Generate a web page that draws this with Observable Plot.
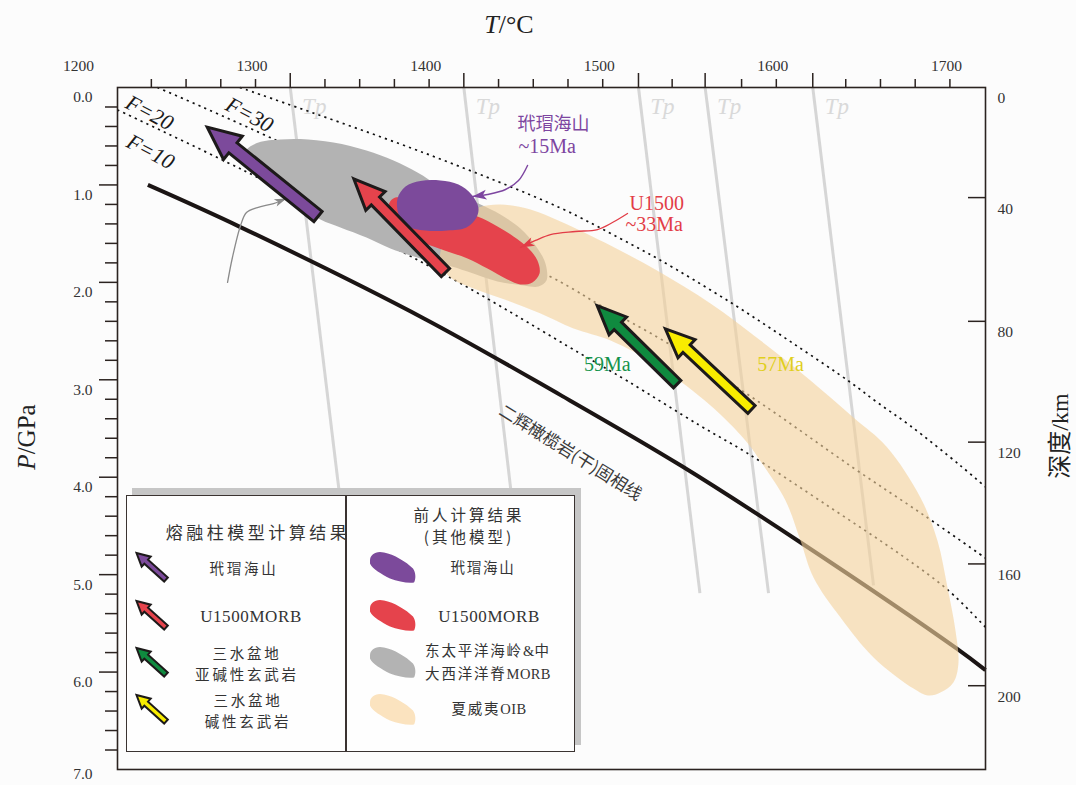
<!DOCTYPE html>
<html lang="zh">
<head>
<meta charset="utf-8">
<script src="https://cdn.jsdelivr.net/npm/d3@7"></script>
<script src="https://cdn.jsdelivr.net/npm/@observablehq/plot@0.6"></script>
<style>
html,body{margin:0;padding:0;background:#fcfcfc;}
#wrap{position:relative;width:1076px;height:785px;overflow:hidden;}
.t{position:absolute;transform:translate(-50%,-50%);white-space:nowrap;color:#2a2a2a;line-height:1;}
.serif{font-family:"Liberation Serif","DejaVu Serif",serif;}
.cjk{font-family:"Noto Sans CJK SC","Noto Sans",sans-serif;}
#legend{position:absolute;left:126px;top:495px;width:449px;height:257px;box-sizing:border-box;background:#fefefe;border:1.5px solid #3a3331;box-shadow:6px -7px 0 0 #c6c6c6;}
#legend .div{position:absolute;left:218px;top:0;width:1.5px;height:100%;background:#3a3331;}
</style>
</head>
<body>
<div id="wrap"></div>
<script>
// ---------------- data ----------------
const tempTickLabels = [1200, 1300, 1400, 1500, 1600, 1700];
const tempMinorTicks = [1242,1262,1282,1302,1342,1362,1382,1402,1442,1462,1482,1502,1542,1582,1602,1642,1662,1682,1702];
const pressureLabels = [0, 1, 2, 3, 4, 5, 6];
const pressureBottomLabel = [7];
const pressureMajorTicks = [1, 2, 3, 4, 5, 6];
const pressureMinorTicks = [0.2,0.4,0.6,0.8,1.2,1.4,1.6,1.8,2.2,2.4,2.6,2.8,3.2,3.4,3.6,3.8,4.2,4.4,4.6,4.8,5.2,5.4,5.6,5.8,6.2,6.4,6.6,6.8];
const depthKm = [0, 40, 80, 120, 160, 200];
const depthGPa = [0, 1.13, 2.40, 3.64, 4.89, 6.14];

// mantle potential temperature (Tp) isentropes
const tpTopT = [1322, 1422, 1522.6, 1561, 1623];
const tpBottomT = [1350, 1449, 1558, 1597.5, 1658];
const tpBottomP = [4.12, 4.12, 5.19, 5.19, 5.11];

// dry peridotite solidus
const solidusT = [1240, 1293, 1399, 1478, 1547, 1616, 1706, 1722.5];
const solidusP = [1.00, 1.43, 2.37, 3.16, 3.88, 4.67, 5.76, 5.98];

// melt fraction isopleths
const f30T = [1293, 1399, 1478, 1512, 1534, 1576, 1612, 1645, 1660, 1679, 1708, 1722.5];
const f30P = [0, 0.67, 1.24, 1.55, 1.76, 2.21, 2.63, 3.03, 3.23, 3.47, 3.88, 4.10];
const f20T = [1245.5, 1316, 1478, 1501, 1539, 1593, 1646, 1687, 1722.5];
const f20P = [0, 0.56, 2.00, 2.24, 2.62, 3.24, 3.90, 4.39, 4.83];
const f10T = [1222.5, 1295, 1414, 1489, 1516, 1558, 1585, 1633, 1674, 1701, 1722.5];
const f10P = [0.23, 0.85, 1.95, 2.73, 3.01, 3.47, 3.75, 4.31, 4.80, 5.16, 5.54];
const fLabels = ["F=20", "F=30", "F=10"];
const fLabelT = [1241, 1298.5, 1241.5];
const fLabelP = [0.26, 0.28, 0.66];

// previous results (P-T fields)
const morbField = [[1296.8,0.647],[1303.7,0.565],[1316.4,0.534],[1327.9,0.529],[1346.9,0.565],[1365.9,0.647],[1381.5,0.749],[1395.3,0.872],[1408.5,1.016],[1430.4,1.191],[1443.1,1.304],[1454.6,1.447],[1463.3,1.622],[1469.0,1.806],[1469.6,1.981],[1465.0,2.043],[1456.4,2.032],[1441.4,1.991],[1424.1,1.889],[1411.4,1.817],[1397.0,1.755],[1379.7,1.653],[1365.9,1.540],[1350.9,1.437],[1339.4,1.355],[1322.1,1.160],[1307.7,0.955],[1299.1,0.801]];
const oibField = [[1408.5,1.796],[1410.3,1.570],[1417.2,1.365],[1430.4,1.232],[1443.1,1.201],[1460.4,1.252],[1477.7,1.375],[1506.5,1.622],[1535.3,1.899],[1564.1,2.217],[1592.9,2.597],[1621.7,3.007],[1646.4,3.387],[1665.4,3.685],[1685.0,4.208],[1694.8,4.650],[1700.6,5.132],[1705.2,5.573],[1706.9,5.912],[1704.0,6.107],[1696.5,6.210],[1689.6,6.241],[1681.0,6.169],[1658.0,5.850],[1639.0,5.440],[1623.4,5.029],[1615.9,4.650],[1607.3,4.239],[1594.6,3.880],[1584.2,3.623],[1564.1,3.264],[1535.3,2.874],[1506.5,2.597],[1485.2,2.474],[1466.2,2.320],[1447.1,2.186],[1427.6,2.063],[1414.3,1.950]];
const u1500Field = [[1378.6,1.211],[1382.6,1.129],[1397.0,1.191],[1420.1,1.283],[1429.9,1.324],[1441.4,1.427],[1450.6,1.529],[1458.7,1.642],[1464.4,1.776],[1465.6,1.909],[1461.5,2.001],[1454.6,2.022],[1447.1,1.971],[1435.6,1.858],[1424.1,1.755],[1412.6,1.683],[1402.8,1.622],[1391.3,1.529],[1382.6,1.406]];
const daimaoField = [[1383.8,1.139],[1388.4,1.016],[1397.0,0.960],[1408.5,0.955],[1418.9,0.996],[1426.4,1.098],[1430.4,1.232],[1429.3,1.334],[1423.5,1.437],[1412.6,1.468],[1399.9,1.468],[1388.4,1.416],[1384.4,1.304]];

// melting-column model results (arrows: tail -> tip)
const meltNames = ["玳瑁海山", "U1500MORB", "三水盆地亚碱性玄武岩", "三水盆地碱性玄武岩"];
const meltColors = ["#7c4a9b", "#e5434c", "#0f8a3f", "#f8ec00"];
const meltTipT = [1274.2, 1358.6, 1498.8, 1538.1];
const meltTipP = [0.407, 0.937, 2.238, 2.477];
const meltTailT = [1338.0, 1411.4, 1544.9, 1587.7];
const meltTailP = [1.324, 1.899, 3.045, 3.305];

// annotation leader curves
const purpleLeadT = [1458.7, 1453.5, 1446.0, 1435.6, 1427.0];
const purpleLeadP = [0.80, 0.955, 1.047, 1.098, 1.119];
const redLeadT = [1516.3, 1507.6, 1499.0, 1486.3, 1471.9, 1463.3, 1454.6];
const redLeadP = [1.293, 1.386, 1.458, 1.478, 1.509, 1.570, 1.642];
const grayLeadT = [1285.9, 1288.7, 1293.4, 1296.8, 1303.1, 1312.4, 1319.8];
const grayLeadP = [2.001, 1.745, 1.416, 1.283, 1.232, 1.191, 1.139];

// ---------------- layout helpers ----------------
const W = 1076, H = 785, mL = 117, mR = 91, mT = 87, mB = 16;
const xDom = [1222.5, 1722.5], yDom = [0, 7];
const kx = (W - mL - mR) / (xDom[1] - xDom[0]);
const ky = (H - mT - mB) / (yDom[1] - yDom[0]);
const toPx = ([T, P]) => [(T - xDom[0]) * kx, (P - yDom[0]) * ky];
const toData = ([x, y]) => ({T: xDom[0] + x / kx, P: yDom[0] + y / ky});
const rows = (Ts, Ps, id) => Ts.map((T, i) => ({T, P: Ps[i], id}));
const pairs = (arr, id) => arr.map(([T, P]) => ({T, P, id}));

function arrowPolygon(tip, tail, hl, hw, sw, id) {
  const [tx, ty] = toPx(tip), [sx, sy] = toPx(tail);
  const L = Math.hypot(tx - sx, ty - sy);
  const ux = (tx - sx) / L, uy = (ty - sy) / L, nx = -uy, ny = ux;
  const bx = tx - ux * hl, by = ty - uy * hl;
  return [[tx, ty], [bx + nx*hw/2, by + ny*hw/2], [bx + nx*sw/2, by + ny*sw/2],
          [sx + nx*sw/2, sy + ny*sw/2], [sx - nx*sw/2, sy - ny*sw/2],
          [bx - nx*sw/2, by - ny*sw/2], [bx - nx*hw/2, by - ny*hw/2]].map(p => ({...toData(p), id}));
}
function headTriangle(from, tip, len, w, id) {
  const [tx, ty] = toPx(tip), [fx, fy] = toPx(from);
  const L = Math.hypot(tx - fx, ty - fy);
  const ux = (tx - fx) / L, uy = (ty - fy) / L, nx = -uy, ny = ux;
  const bx = tx - ux * len, by = ty - uy * len;
  return [[tx, ty], [bx + nx*w/2, by + ny*w/2], [bx + ux*len*0.25, by + uy*len*0.25], [bx - nx*w/2, by - ny*w/2]].map(p => ({...toData(p), id}));
}

const arrowDims = [[33, 30, 13], [31, 27, 11.5], [29, 25, 10.5], [29, 25, 10.5]];
const arrowMarks = meltNames.map((name, i) =>
  Plot.line(arrowPolygon([meltTipT[i], meltTipP[i]], [meltTailT[i], meltTailP[i]], ...arrowDims[i], name),
    {x: "T", y: "P", curve: "linear-closed", fill: meltColors[i], stroke: "#1d1a1a", strokeWidth: 3,
     strokeLinejoin: "miter", strokeMiterlimit: 10}));

const leads = [
  {T: purpleLeadT, P: purpleLeadP, c: "#7d45a0", len: 14, w: 10, sw: 1.4},
  {T: redLeadT, P: redLeadP, c: "#e23d47", len: 14, w: 9, sw: 1.3},
  {T: grayLeadT, P: grayLeadP, c: "#8a8a8a", len: 12, w: 8, sw: 1.3}
];
const leadMarks = leads.flatMap((l, i) => {
  const n = l.T.length;
  return [
    Plot.line(rows(l.T, l.P, i), {x: "T", y: "P", stroke: l.c, strokeWidth: l.sw, curve: "catmull-rom"}),
    Plot.line(headTriangle([l.T[n-2], l.P[n-2]], [l.T[n-1], l.P[n-1]], l.len, l.w, i),
      {x: "T", y: "P", curve: "linear-closed", fill: l.c, stroke: "none"})
  ];
});

const tpRows = tpTopT.flatMap((t, i) => [{T: t, P: 0, id: i}, {T: tpBottomT[i], P: tpBottomP[i], id: i}]);
const dotted = {x: "T", y: "P", stroke: "#111", strokeWidth: 1.7, strokeDasharray: "2.2,4.2", strokeLinecap: "butt", curve: "catmull-rom"};
const ink = "#2b2320";

const plot = Plot.plot({
  width: W, height: H, marginLeft: mL, marginRight: mR, marginTop: mT, marginBottom: mB,
  x: {domain: xDom, label: null}, y: {domain: yDom, reverse: true, label: null},
  style: {background: "transparent", fontFamily: "Liberation Serif, serif", fontSize: "15px", color: ink, overflow: "visible"},
  marks: [
    Plot.line(tpRows, {x: "T", y: "P", z: "id", stroke: "#d6d6d6", strokeWidth: 3, strokeLinecap: "butt"}),
    Plot.text(tpTopT, {x: d => d, y: () => 0.2, text: () => "Tp", dx: 24, fontStyle: "italic", fontSize: 23, fill: "#d9d9d9", fontFamily: "Liberation Serif, serif"}),
    Plot.line(rows(solidusT, solidusP, "s"), {x: "T", y: "P", stroke: "#1b1514", strokeWidth: 4, curve: "catmull-rom", strokeLinecap: "butt"}),
    Plot.line(rows(f30T, f30P, "f30"), dotted),
    Plot.line(rows(f20T, f20P, "f20"), dotted),
    Plot.line(rows(f10T, f10P, "f10"), dotted),
    Plot.line(pairs(morbField, "morb"), {x: "T", y: "P", curve: "catmull-rom-closed", fill: "#b3b3b3", stroke: "none"}),
    Plot.line(pairs(oibField, "oib"), {x: "T", y: "P", curve: "catmull-rom-closed", fill: "#f4d29c", fillOpacity: 0.62, stroke: "none"}),
    Plot.line(pairs(u1500Field, "u"), {x: "T", y: "P", curve: "catmull-rom-closed", fill: "#e5434c", stroke: "none"}),
    Plot.line(pairs(daimaoField, "d"), {x: "T", y: "P", curve: "catmull-rom-closed", fill: "#7c4a9b", stroke: "none"}),
    ...leadMarks,
    ...arrowMarks,
    // annotations
    Plot.text(fLabels, {x: (d, i) => fLabelT[i], y: (d, i) => fLabelP[i], text: d => d, rotate: 28, fontStyle: "italic", fontSize: 22, fill: "#1a1a1a", fontFamily: "Liberation Serif, serif"}),
    Plot.text(["玳瑁海山"], {x: () => 1452.9, y: () => 0.38, text: d => d, textAnchor: "start", fontSize: 18, fill: "#7d45a0", fontFamily: "Noto Sans CJK SC, sans-serif", ariaLabel: "cjk-note"}),
    Plot.text(["~15Ma"], {x: () => 1453.5, y: () => 0.61, text: d => d, textAnchor: "start", fontSize: 20, fill: "#7d45a0", fontFamily: "Liberation Serif, serif"}),
    Plot.text(["U1500"], {x: () => 1517.4, y: () => 1.19, text: d => d, textAnchor: "start", fontSize: 20, fill: "#e23d47", fontFamily: "Liberation Serif, serif", ariaLabel: "u-note"}),
    Plot.text(["~33Ma"], {x: () => 1515.1, y: () => 1.41, text: d => d, textAnchor: "start", fontSize: 20, fill: "#e23d47", fontFamily: "Liberation Serif, serif"}),
    Plot.text(["59Ma"], {x: () => 1504.7, y: () => 2.84, text: d => d, fontSize: 20, fill: "#14934a", fontFamily: "Liberation Serif, serif"}),
    Plot.text(["57Ma"], {x: () => 1604.4, y: () => 2.84, text: d => d, fontSize: 20, fill: "#e0cf1c", fontFamily: "Liberation Serif, serif"}),
    Plot.text(["二辉橄榄岩(干)固相线"], {x: () => 1483.4, y: () => 3.75, text: d => d, rotate: 32, fontSize: 17, fill: "#3a3a3a", fontFamily: "Noto Sans CJK SC, sans-serif", ariaLabel: "cjk-solidus"}),
    // axes
    Plot.axisX({anchor: "top", ticks: tempMinorTicks, tickSize: 9, tickFormat: () => "", label: null, stroke: ink, strokeWidth: 1.5}),
    Plot.axisX({anchor: "top", ticks: tpTopT, tickSize: 15, tickFormat: () => "", label: null, stroke: ink, strokeWidth: 1.5}),
    Plot.text(tempTickLabels, {x: d => d, text: d => String(d), frameAnchor: "top", dy: -28, fontSize: 15.5, fill: "#333", ariaLabel: "tlab"}),
    Plot.axisY({anchor: "left", ticks: pressureMinorTicks, tickSize: 12, tickFormat: () => "", label: null, stroke: ink, strokeWidth: 1.5}),
    Plot.axisY({anchor: "left", ticks: pressureMajorTicks, tickSize: 18, tickFormat: () => "", label: null, stroke: ink, strokeWidth: 1.5}),
    Plot.text(pressureLabels, {y: d => d, text: d => d.toFixed(1), frameAnchor: "left", dx: -25, dy: 10, textAnchor: "end", fontSize: 15.5, fill: "#333", ariaLabel: "plab"}),
    Plot.text(pressureBottomLabel, {y: d => d, text: d => d.toFixed(1), frameAnchor: "left", dx: -25, dy: 5, textAnchor: "end", fontSize: 15.5, fill: "#333", ariaLabel: "plab"}),
    Plot.ruleY(depthGPa.slice(1), {y: d => d, insetLeft: (W - mL - mR) - 17, stroke: ink, strokeWidth: 1.5}),
    Plot.text(depthKm, {y: (d, i) => depthGPa[i], text: d => String(d), frameAnchor: "right", dx: 12, dy: 11, textAnchor: "start", fontSize: 15.5, fill: "#333", ariaLabel: "dlab"}),
    Plot.frame({stroke: ink, strokeWidth: 1.6})
  ]
});

const s = d3.select(plot);
s.selectAll('g[aria-label="tlab"] text').attr("letter-spacing", 1);
s.selectAll('g[aria-label="plab"] text').attr("letter-spacing", 2.5);
s.selectAll('g[aria-label="dlab"] text').attr("letter-spacing", 3);
s.selectAll('g[aria-label="cjk-note"] text').attr("letter-spacing", 3.5);
s.selectAll('g[aria-label="u-note"] text').attr("letter-spacing", 1.5);
s.selectAll('g[aria-label="cjk-solidus"] text').attr("letter-spacing", 3.5);

const wrap = document.getElementById("wrap");
plot.style.position = "absolute"; plot.style.left = "0"; plot.style.top = "0";
wrap.appendChild(plot);

function label(html, x, y, cls, css, parent = wrap) {
  const e = document.createElement("div");
  e.className = "t " + cls; e.innerHTML = html;
  e.style.left = x + "px"; e.style.top = y + "px";
  if (css) e.style.cssText += css;
  parent.appendChild(e); return e;
}
label("<i>T</i>/°C", 509, 25, "serif", "font-size:26px;color:#222;");
label("<i>P</i>/GPa", 26, 437, "serif", "font-size:25px;color:#222;transform:translate(-50%,-50%) rotate(-90deg);");
label('<span class="cjk">深度</span>/km', 1059, 436, "serif", "font-size:24px;color:#222;transform:translate(-50%,-50%) rotate(-90deg);");

// ---------------- legend ----------------
const legendLeftTitle = "熔融柱模型计算结果";
const legendRightTitle = ["前人计算结果", "(其他模型)"];
const legendLeftItems = [["玳瑁海山"], ["U1500MORB"], ["三水盆地", "亚碱性玄武岩"], ["三水盆地", "碱性玄武岩"]];
const legendRightItems = [["玳瑁海山"], ["U1500MORB"], ["东太平洋海岭&中", "大西洋洋脊MORB"], ["夏威夷OIB"]];
const legendFieldColors = ["#7c4a9b", "#e5434c", "#b3b3b3", "#fbe3bf"];

const lg = document.createElement("div"); lg.id = "legend"; wrap.appendChild(lg);
const dv = document.createElement("div"); dv.className = "div"; lg.appendChild(dv);

const NS = "http://www.w3.org/2000/svg";
const lsvg = document.createElementNS(NS, "svg");
lsvg.setAttribute("width", 446); lsvg.setAttribute("height", 254);
lsvg.style.cssText = "position:absolute;left:0;top:0;overflow:visible";
lg.appendChild(lsvg);

const itemRowY = [71.5, 119.5, 166.5, 213.5];
legendLeftItems.forEach((lines, i) => {
  const tipx = 9.5, tipy = itemRowY[i] - 14.5, tailx = 39, taily = itemRowY[i] + 12;
  const L = Math.hypot(tailx - tipx, taily - tipy), ux = (tipx - tailx) / L, uy = (tipy - taily) / L, nx = -uy, ny = ux;
  const hl = 13, hw = 13.5, sw = 5.5, bx = tipx - ux * hl, by = tipy - uy * hl;
  const pts = [[tipx, tipy], [bx + nx*hw/2, by + ny*hw/2], [bx + nx*sw/2, by + ny*sw/2], [tailx + nx*sw/2, taily + ny*sw/2],
               [tailx - nx*sw/2, taily - ny*sw/2], [bx - nx*sw/2, by - ny*sw/2], [bx - nx*hw/2, by - ny*hw/2]];
  const p = document.createElementNS(NS, "polygon");
  p.setAttribute("points", pts.map(q => q.join(",")).join(" "));
  p.setAttribute("fill", meltColors[i]); p.setAttribute("stroke", "#1d1a1a"); p.setAttribute("stroke-width", 2);
  p.setAttribute("stroke-linejoin", "miter");
  lsvg.appendChild(p);
  const b = document.createElementNS(NS, "path");
  b.setAttribute("d", "M0,9 C0,3 6,-1 14,1 C24,3 36,10 43,17 C46,21 46,28 44,31 C38,32 28,30 20,27 C12,23 2,17 0,12 Z");
  b.setAttribute("transform", `translate(243,${itemRowY[i] - 16})`);
  b.setAttribute("fill", legendFieldColors[i]);
  lsvg.appendChild(b);
});

label(legendLeftTitle, 131, 35, "cjk", "font-size:17px;letter-spacing:3.5px;color:#333;", lg);
label(legendRightTitle.join("<br>"), 342, 28.5, "cjk", "font-size:15.5px;letter-spacing:3px;color:#333;line-height:22.5px;text-align:center;", lg);
const leftX = [117, 124, 120, 121], rightX = [356, 362, 361, 362];
const latinRe = /^[A-Z0-9]+$/;
legendLeftItems.forEach((lines, i) => {
  if (lines.length === 1 && latinRe.test(lines[0])) {
    label(lines[0], leftX[i], itemRowY[i], "serif", "font-size:17px;letter-spacing:0.6px;color:#333;", lg);
  } else {
    label(lines.join("<br>"), leftX[i], itemRowY[i], "cjk", "font-size:14.5px;letter-spacing:2.8px;color:#333;line-height:21.2px;text-align:center;", lg);
  }
});
legendRightItems.forEach((lines, i) => {
  if (lines.length === 1 && latinRe.test(lines[0])) {
    label(lines[0], rightX[i], itemRowY[i], "serif", "font-size:17px;letter-spacing:0.6px;color:#333;", lg);
  } else {
    const html = lines.map(t => t.replace(/([A-Z0-9&]+)/g, '<span class="serif" style="letter-spacing:0.4px">$1</span>')).join("<br>");
    label(html, rightX[i], itemRowY[i] - 0.5, "cjk", "font-size:14.5px;letter-spacing:1.8px;color:#333;line-height:21.2px;text-align:left;", lg);
  }
});
</script>
</body>
</html>
